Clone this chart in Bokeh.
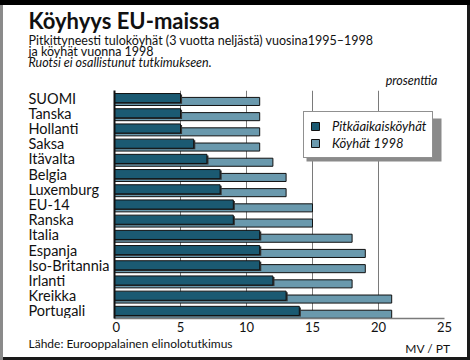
from bokeh.plotting import figure
from bokeh.layouts import column, row
from bokeh.models import (FactorRange, Legend, LegendItem, Label, LabelSet,
                          ColumnDataSource, BoxAnnotation, FixedTicker, Range1d)
from bokeh.transform import dodge
from bokeh.embed import file_html
from bokeh.resources import INLINE
from bokeh.core.properties import value

# ---- data ----
countries = ["SUOMI", "Tanska", "Hollanti", "Saksa", "Itävalta", "Belgia",
             "Luxemburg", "EU-14", "Ranska", "Italia", "Espanja",
             "Iso-Britannia", "Irlanti", "Kreikka", "Portugali"]
long_term_poor = [5, 5, 5, 6, 7, 8, 8, 9, 9, 11, 11, 11, 12, 13, 14]
poor_1998 = [11, 11, 11, 11, 12, 13, 13, 15, 15, 18, 19, 19, 18, 21, 21]
x_ticks = [0, 5, 10, 15, 20, 25]
series_names = ["Pitkäaikaisköyhät", "Köyhät 1998"]

title_text = "Köyhyys EU-maissa"
subtitle_1 = "Pitkittyneesti tuloköyhät (3 vuotta neljästä) vuosina1995–1998"
subtitle_2 = "ja köyhät vuonna 1998"
note_text = "Ruotsi ei osallistunut tutkimukseen."
unit_text = "prosenttia"
source_text = "Lähde: Eurooppalainen elinolotutkimus"
credit_text = "MV / PT"

FONT = "Lato"
DARK = "#1b5a72"
LIGHT = "#6a99ad"
GRID = "#7a7a7a"
INK = "#111111"

src = ColumnDataSource(dict(country=countries, long=long_term_poor, poor=poor_1998,
                            shadow=[v + 0.12 for v in long_term_poor]))
yr = FactorRange(factors=countries[::-1], range_padding=0)


def text_fig(w, h, xr, yr_):
    f = figure(frame_width=w, frame_height=h, x_range=xr, y_range=yr_,
               output_backend="svg", toolbar_location=None,
               x_axis_location=None, y_axis_location=None,
               min_border_left=0, min_border_right=0,
               min_border_top=0, min_border_bottom=0)
    f.title.visible = False
    f.outline_line_color = None
    f.background_fill_alpha = 0
    f.border_fill_alpha = 0
    f.xgrid.visible = False
    f.ygrid.visible = False
    return f


def text_block(f, rows):
    # rows: (x, y measured downward from panel top, text, size, style, align)
    top = f.y_range.end
    cds = ColumnDataSource(dict(
        x=[r[0] for r in rows], y=[top - r[1] for r in rows],
        text=[r[2] for r in rows], size=[r[3] for r in rows],
        style=[r[4] for r in rows], align=[r[5] for r in rows]))
    f.add_layout(LabelSet(x="x", y="y", text="text", source=cds,
                          text_font=value(FONT), text_font_size="size",
                          text_font_style="style", text_align="align",
                          text_baseline="alphabetic", text_color=INK))


# ---- header (page pixels 0..90) ----
header = text_fig(470, 90, Range1d(0, 470), Range1d(0, 90))
text_block(header, [
    (28, 28, title_text, "22px", "bold", "left"),
    (28, 44.3, subtitle_1, "12.5px", "normal", "left"),
    (28, 55.5, subtitle_2, "12.5px", "normal", "left"),
    (28, 66.5, note_text, "12.5px", "italic", "left"),
    (437, 84.5, unit_text, "12.5px", "italic", "right"),
])

# ---- category names ----
names = text_fig(112, 228, Range1d(0, 112), yr)
names.add_layout(LabelSet(x=28, y="country", text="country", source=src,
                          text_align="left", text_baseline="middle",
                          text_font=value(FONT), text_font_size="14.5px",
                          text_color=INK))

# ---- main chart ----
p = figure(frame_width=330, frame_height=228, y_range=yr, x_range=Range1d(0, 25),
           output_backend="svg", toolbar_location=None,
           min_border_left=2, min_border_right=26,
           min_border_top=0, min_border_bottom=19)
p.title.visible = False
p.outline_line_color = None
p.background_fill_color = "white"
p.border_fill_alpha = 0

light = p.hbar(y=dodge("country", -0.22, range=yr), left=0, right="poor",
               height=0.53, fill_color=LIGHT, line_color=INK, line_width=1,
               source=src)
p.hbar(y=dodge("country", -0.07, range=yr), left=0, right="shadow",
       height=0.6, fill_color="#333333", line_color=None, source=src)
dark = p.hbar(y=dodge("country", 0.0, range=yr), left=0, right="long",
              height=0.6, fill_color=DARK, line_color=INK, line_width=1,
              source=src)

p.xaxis.ticker = FixedTicker(ticks=x_ticks)
p.xaxis.major_tick_line_color = None
p.xaxis.minor_tick_line_color = None
p.xaxis.major_tick_out = 0
p.xaxis.major_tick_in = 0
p.xaxis.axis_line_color = GRID
p.xaxis.axis_line_width = 1.5
p.xaxis.major_label_text_font = FONT
p.xaxis.major_label_text_font_size = "13px"
p.xaxis.major_label_text_color = INK
p.xaxis.major_label_standoff = 3

p.yaxis.major_tick_line_color = None
p.yaxis.minor_tick_line_color = None
p.yaxis.major_tick_out = 0
p.yaxis.major_tick_in = 0
p.yaxis.major_label_standoff = 0
p.yaxis.axis_line_color = INK
p.yaxis.axis_line_width = 2
p.yaxis.major_label_text_font_size = "0px"

p.xgrid.ticker = FixedTicker(ticks=[5, 10, 15, 20, 25])
p.xgrid.grid_line_color = GRID
p.xgrid.grid_line_width = 1
p.ygrid.grid_line_color = None

# legend shadow
p.add_layout(BoxAnnotation(left=(306 - 114) / 13.2, right=(441 - 114) / 13.2,
                           top=(318 - 118) / 15.2, bottom=(318 - 161) / 15.2,
                           fill_color="#8a8a8a", fill_alpha=1, line_color=None))

legend = Legend(items=[LegendItem(label=series_names[0], renderers=[dark]),
                       LegendItem(label=series_names[1], renderers=[light])],
                location=(189, 160), orientation="vertical")
legend.label_text_font = FONT
legend.label_text_font_style = "italic"
legend.label_text_font_size = "13px"
legend.label_text_color = INK
legend.glyph_width = 10
legend.glyph_height = 10
legend.label_height = 13
legend.label_standoff = 12
legend.padding = 6
legend.spacing = 1
legend.margin = 0
legend.border_line_color = "#222222"
legend.border_line_width = 1
legend.background_fill_alpha = 1
p.add_layout(legend, "center")

# ---- footer (page pixels 337..360) ----
footer = text_fig(470, 23, Range1d(0, 470), Range1d(0, 23))
text_block(footer, [
    (28, 10, source_text, "12px", "normal", "left"),
    (450, 15, credit_text, "12px", "normal", "right"),
])

layout = column(header, row(names, p), footer)
layout.styles = {"background-color": "white",
                 "box-shadow": "inset 0 5px 0 #000000, inset 3px 0 0 #8a8a8a, "
                               "inset -3px 0 0 #1a1a1a, inset 0 -3px 0 #1a1a1a"}

open("out.html", "w").write(file_html(layout, INLINE))
